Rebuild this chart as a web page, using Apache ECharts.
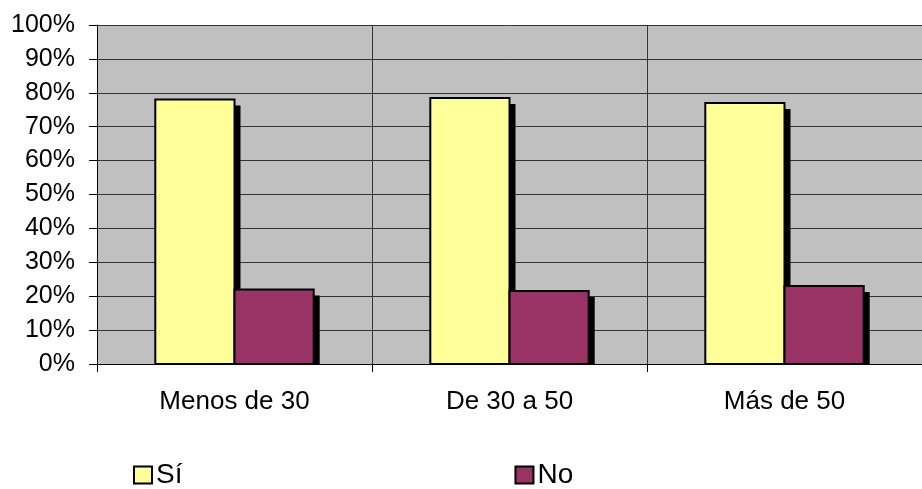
<!DOCTYPE html>
<html><head><meta charset="utf-8">
<script src="https://cdn.jsdelivr.net/npm/echarts@6/dist/echarts.min.js"></script>
<style>html,body{margin:0;padding:0;background:#fff}#c{width:922px;height:489px}</style>
</head><body><div id="c"></div>
<script>
const categories = ['Menos de 30', 'De 30 a 50', 'Más de 50'];
const si = [78, 78.5, 77];
const no = [22, 21.5, 23];
const yTicks = [0, 10, 20, 30, 40, 50, 60, 70, 80, 90, 100];

const chart = echarts.init(document.getElementById('c'));
const font = 'Liberation Sans, Arial, sans-serif';

function makeRender(color, side) {
  return function (params, api) {
    const cat = api.value(0);
    const val = api.value(1);
    const top = api.coord([cat, val]);
    const base = api.coord([cat, 0]);
    const band = api.size([1, 0])[0];
    const w = band * 0.288;
    const x = side === 0 ? top[0] - w : top[0];
    const h = base[1] - top[1];
    return {
      type: 'group',
      children: [
        { type: 'rect', shape: { x: x + 6, y: top[1] + 6, width: w, height: h - 6 },
          style: { fill: '#000' } },
        { type: 'rect', shape: { x: x, y: top[1], width: w, height: h },
          style: { fill: color, stroke: '#000', lineWidth: 2 } }
      ]
    };
  };
}

chart.setOption({
  animation: false,
  grid: { left: 97, top: 25, bottom: 125, right: -8, show: true, backgroundColor: '#c0c0c0', borderWidth: 0 },
  legend: {
    top: 461, left: 133, padding: 0, itemWidth: 18, itemHeight: 17, itemGap: 332,
    textStyle: { fontFamily: font, fontSize: 28, color: '#000', padding: [0, 0, 0, -1] },
    data: [
      { name: 'Sí', icon: 'rect', itemStyle: { color: '#ffff99', borderColor: '#000', borderWidth: 2 } },
      { name: 'No', icon: 'rect', itemStyle: { color: '#993366', borderColor: '#000', borderWidth: 2 } }
    ]
  },
  xAxis: {
    type: 'category', data: categories,
    axisLine: { show: true, lineStyle: { color: '#000', width: 1 } },
    axisTick: { show: true, length: 8, interval: 0, lineStyle: { color: '#000' } },
    axisLabel: { fontFamily: font, fontSize: 26, color: '#000', margin: 25 },
    splitLine: { show: true, interval: 0, lineStyle: { color: '#333', width: 1 } }
  },
  yAxis: {
    type: 'value', min: 0, max: 100, interval: 10,
    axisLine: { show: true, lineStyle: { color: '#000', width: 1 } },
    axisTick: { show: true, length: 8, lineStyle: { color: '#000' } },
    axisLabel: { fontFamily: font, fontSize: 25, color: '#000', margin: 22,
      formatter: (v) => yTicks.includes(v) ? v + '%' : '' },
    splitLine: { show: true, lineStyle: { color: '#333', width: 1 } }
  },
  series: [
    { name: 'Sí', type: 'custom', renderItem: makeRender('#ffff99', 0),
      itemStyle: { color: '#ffff99' },
      encode: { x: 0, y: 1 }, data: si.map((v, i) => [i, v]) },
    { name: 'No', type: 'custom', renderItem: makeRender('#993366', 1),
      itemStyle: { color: '#993366' },
      encode: { x: 0, y: 1 }, data: no.map((v, i) => [i, v]) }
  ]
});
</script></body></html>
